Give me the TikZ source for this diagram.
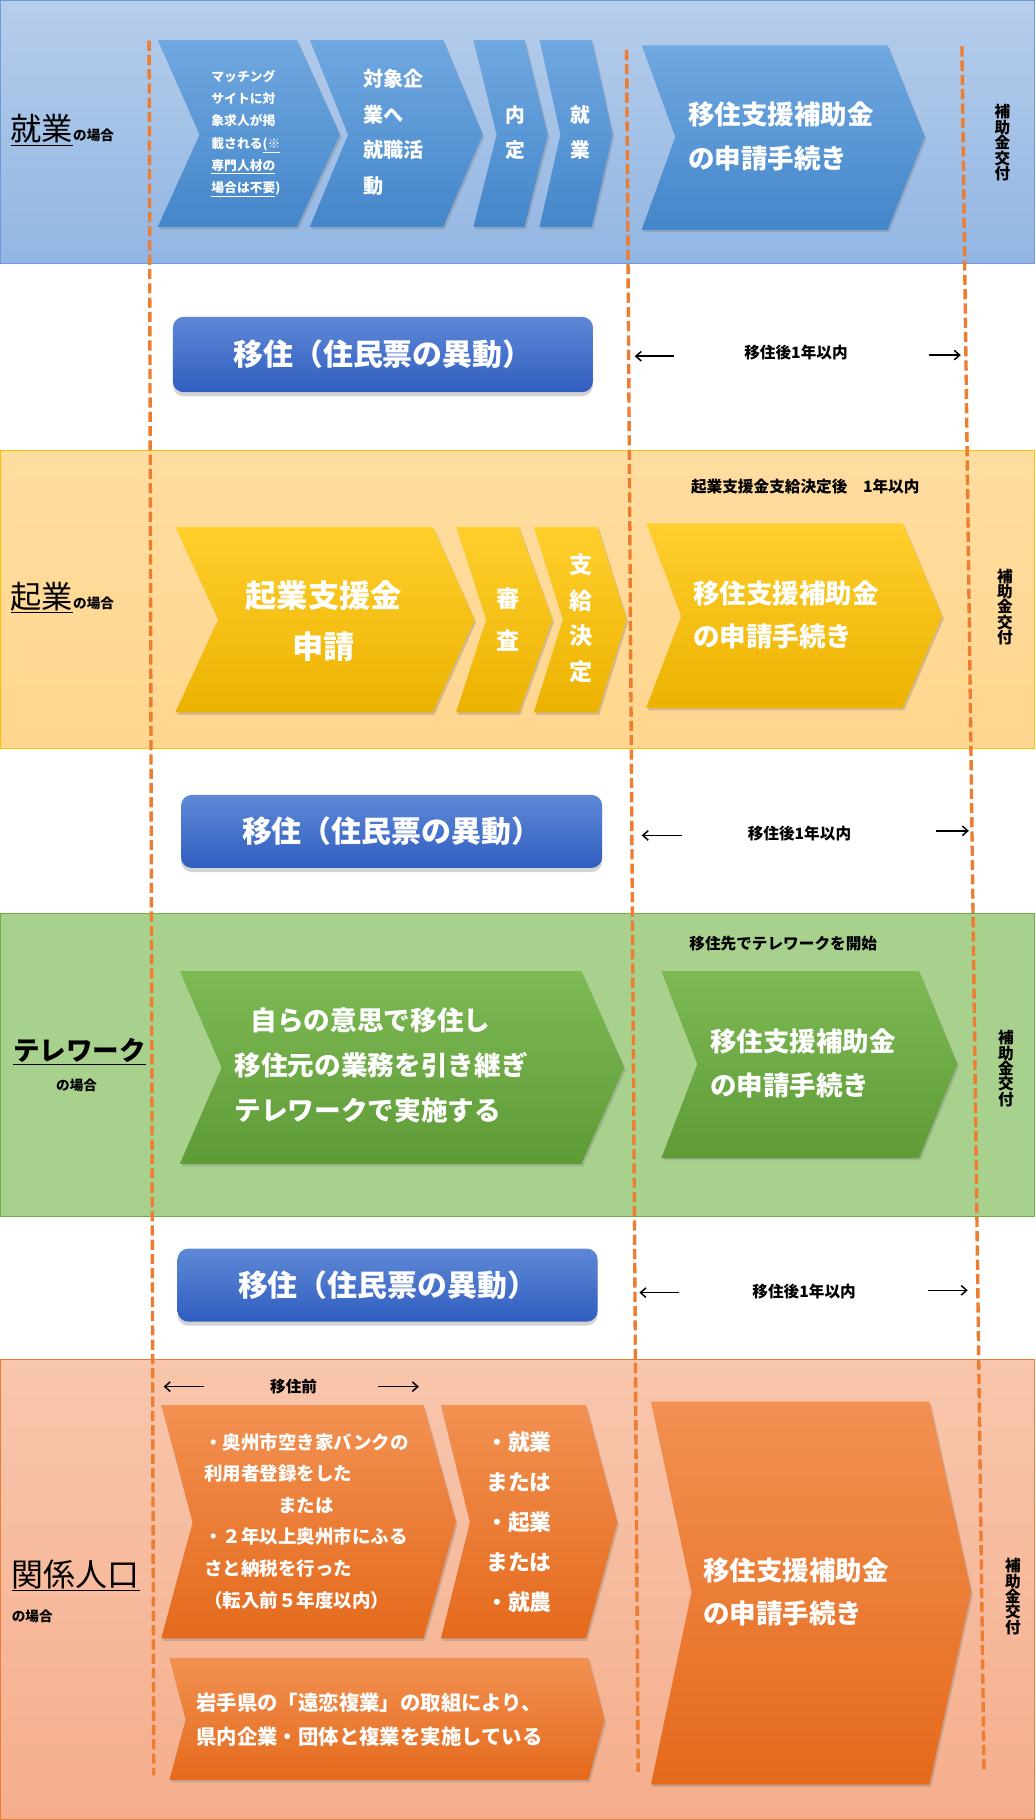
\documentclass[tikz,border=0pt]{standalone}
\usepackage{fontspec}
\setmainfont{Noto Sans CJK JP}
\usetikzlibrary{shadows,arrows.meta}

\definecolor{bandblueT}{RGB}{182,205,235}
\definecolor{bandblueB}{RGB}{146,182,227}
\definecolor{bandblueD}{RGB}{110,155,215}
\definecolor{bandyelT}{RGB}{255,221,160}
\definecolor{bandyelB}{RGB}{255,214,142}
\definecolor{bandyelD}{RGB}{255,192,0}
\definecolor{bandgrn}{RGB}{169,209,142}
\definecolor{bandgrnD}{RGB}{112,173,71}
\definecolor{bandsalT}{RGB}{248,198,172}
\definecolor{bandsalB}{RGB}{245,174,140}
\definecolor{bandsalD}{RGB}{237,125,49}
\definecolor{chevblueT}{RGB}{112,168,224}
\definecolor{chevblueB}{RGB}{68,134,202}
\definecolor{chevyelT}{RGB}{255,207,45}
\definecolor{chevyelB}{RGB}{236,178,0}
\definecolor{chevgrnT}{RGB}{126,186,84}
\definecolor{chevgrnB}{RGB}{94,154,54}
\definecolor{chevorgT}{RGB}{242,145,82}
\definecolor{chevorgB}{RGB}{228,106,28}
\definecolor{moveT}{RGB}{94,136,214}
\definecolor{moveB}{RGB}{48,94,192}
\definecolor{guideorange}{RGB}{237,125,49}

\begin{document}
\begin{tikzpicture}[x=0.03cm,y=-0.03cm,
	chev/.style={drop shadow={opacity=0.35,shadow xshift=1.2pt,shadow yshift=-1.8pt}},
	bluechev/.style={chev,top color=chevblueT,bottom color=chevblueB},
	yelchev/.style={chev,top color=chevyelT,bottom color=chevyelB},
	grnchev/.style={chev,top color=chevgrnT,bottom color=chevgrnB},
	orgchev/.style={chev,top color=chevorgT,bottom color=chevorgB},
	wtext/.style={text=white,inner sep=0pt},
	lbl/.style={inner sep=0pt,font=\fontsize{11.5pt}{13pt}\selectfont\bfseries},
	vlbl/.style={lbl,align=center,font=\fontsize{11.5pt}{11.3pt}\selectfont\bfseries},
	movebox/.style={rounded corners=8pt,top color=moveT,bottom color=moveB,text=white,
		drop shadow={opacity=0.35,shadow xshift=0pt,shadow yshift=-3pt},
		font=\fontsize{22pt}{22pt}\selectfont\bfseries},
	guide/.style={draw=guideorange,line width=2.5pt,dash pattern=on 7.5pt off 3pt},
	yr/.style={-{Straight Barb[length=4pt,width=7pt]},line width=1.1pt}]
	\useasboundingbox (0,0) rectangle (892,1568.5);

	% bands
	\path[draw=bandblueD,line width=0.8pt,top color=bandblueT,bottom color=bandblueB] (0.5,0.5) rectangle (891.5,227);
	\path[draw=bandyelD,line width=0.8pt,top color=bandyelT,bottom color=bandyelB] (0.5,388) rectangle (891.5,645);
	\path[draw=bandgrnD,line width=0.8pt,fill=bandgrn] (0.5,787) rectangle (891.5,1048);
	\path[draw=bandsalD,line width=0.8pt,top color=bandsalT,bottom color=bandsalB] (0.5,1172) rectangle (891.5,1568);

	% just after employment
	\path[bluechev] (136,34.5) -- (256,34.5) -- (293,116) -- (256,195.5) -- (136,195.5) -- (172,116) -- cycle;
	\path[bluechev] (267,34.5) -- (382,34.5) -- (416,116) -- (382,195.5) -- (267,195.5) -- (300,116) -- cycle;
	\path[bluechev] (408,34.5) -- (452,34.5) -- (472,116) -- (452,195.5) -- (408,195.5) -- (428,116) -- cycle;
	\path[bluechev] (465,34.5) -- (510,34.5) -- (528,116) -- (510,195.5) -- (465,195.5) -- (483,116) -- cycle;
	\path[bluechev] (553,39) -- (765,39) -- (797,118) -- (765,198) -- (553,198) -- (582,118) -- cycle;
	\draw (9,121) node [anchor=base west,inner sep=0pt] (k1) {\fontsize{23pt}{23pt}\selectfont\underline{就業}\fontsize{10pt}{10pt}\selectfont\bfseries の場合};
	\draw (182,115) node [wtext,anchor=west,align=left,font=\fontsize{9.4pt}{16.4pt}\selectfont\bfseries] (s1) {マッチング\\サイトに対\\象求人が掲\\載される\underline{(※}\\\underline{専門人材の}\\\underline{場合は不要})};
	\draw (313,114) node [wtext,anchor=west,align=left,font=\fontsize{14.8pt}{26.2pt}\selectfont\bfseries] (s2) {対象企\\業へ\\就職活\\動};
	\draw (444,114) node [wtext,align=center,font=\fontsize{14.5pt}{25.6pt}\selectfont\bfseries] (s3) {内\\定};
	\draw (500,114) node [wtext,align=center,font=\fontsize{14.5pt}{25.6pt}\selectfont\bfseries] (s4) {就\\業};
	\draw (593,117.5) node [wtext,anchor=west,align=left,font=\fontsize{19.5pt}{32pt}\selectfont\bfseries] (s5) {移住支援補助金\\の申請手続き};
	\draw (864,123) node [vlbl] (f1) {補\\助\\金\\交\\付};

	\draw (330,305.5) node [movebox,minimum width=10.86cm,minimum height=1.95cm] (m1) {移住（住民票の異動）};
	\draw (686,304) node [lbl] (y1) {移住後1年以内};
	\coordinate (y1a) at (581,307);
	\coordinate (y1b) at (547,307);
	\coordinate (y1c) at (801,306);
	\coordinate (y1d) at (828,306);

	% starting a business
	\path[yelchev] (151,454) -- (373,454) -- (409,534) -- (373,614) -- (151,614) -- (188,534) -- cycle;
	\path[yelchev] (393,454) -- (447,454) -- (476,534) -- (447,614) -- (393,614) -- (419,534) -- cycle;
	\path[yelchev] (460,454) -- (515,454) -- (540,534) -- (515,614) -- (460,614) -- (485,534) -- cycle;
	\path[yelchev] (557,451) -- (778,451) -- (812,531) -- (778,610) -- (557,610) -- (587,531) -- cycle;
	\draw (9,524) node [anchor=base west,inner sep=0pt] (k2) {\fontsize{23pt}{23pt}\selectfont\underline{起業}\fontsize{10pt}{10pt}\selectfont\bfseries の場合};
	\draw (694,419) node [lbl] (w2) {起業支援金支給決定後　1年以内};
	\draw (279,535) node [wtext,align=center,font=\fontsize{23pt}{37.5pt}\selectfont\bfseries] (s6) {起業支援金\\申請};
	\draw (438,534) node [wtext,align=center,font=\fontsize{17pt}{30.7pt}\selectfont\bfseries] (s7) {審\\査};
	\draw (501,533) node [wtext,align=center,font=\fontsize{17pt}{26.2pt}\selectfont\bfseries] (s8) {支\\給\\決\\定};
	\draw (597,530) node [wtext,anchor=west,align=left,font=\fontsize{19.5pt}{32pt}\selectfont\bfseries] (s9) {移住支援補助金\\の申請手続き};
	\draw (866,523) node [vlbl] (f2) {補\\助\\金\\交\\付};

	\draw (337.5,716.5) node [movebox,minimum width=10.89cm,minimum height=1.89cm] (m2) {移住（住民票の異動）};
	\draw (689,718) node [lbl] (y2) {移住後1年以内};
	\coordinate (y2a) at (588,720);
	\coordinate (y2b) at (553,720);
	\coordinate (y2c) at (807,716);
	\coordinate (y2d) at (835,716);

	% telework
	\path[grnchev] (155,837) -- (501,837) -- (538,920) -- (501,1003) -- (155,1003) -- (191,920) -- cycle;
	\path[grnchev] (570,837) -- (792,837) -- (825,917) -- (792,998) -- (570,998) -- (601,917) -- cycle;
	\draw (11,914) node [anchor=base west,inner sep=0pt,font=\fontsize{19.5pt}{19.5pt}\selectfont\bfseries] (k3) {\underline{テレワーク}};
	\draw (66,935) node [inner sep=0pt,font=\fontsize{10pt}{10pt}\selectfont\bfseries] (k3b) {の場合};
	\draw (675,813) node [lbl] (w3) {移住先でテレワークを開始};
	\draw (202,918) node [wtext,anchor=west,align=left,font=\fontsize{19.6pt}{32.9pt}\selectfont\bfseries] (s10) {\hspace*{0.6em}自らの意思で移住し\\移住元の業務を引き継ぎ\\テレワークで実施する};
	\draw (612,916.5) node [wtext,anchor=west,align=left,font=\fontsize{19.5pt}{32pt}\selectfont\bfseries] (s11) {移住支援補助金\\の申請手続き};
	\draw (867,921) node [vlbl] (f3) {補\\助\\金\\交\\付};

	\draw (334,1107.5) node [movebox,minimum width=10.86cm,minimum height=1.89cm] (m3) {移住（住民票の異動）};
	\draw (693,1113) node [lbl] (y3) {移住後1年以内};
	\coordinate (y3a) at (585,1114);
	\coordinate (y3b) at (551,1114);
	\coordinate (y3c) at (800,1112);
	\coordinate (y3d) at (834,1112);

	% related population
	\path[orgchev] (139,1211) -- (365,1211) -- (393,1312) -- (365,1412) -- (139,1412) -- (166,1312) -- cycle;
	\path[orgchev] (380,1211) -- (505,1211) -- (532,1312) -- (505,1412) -- (380,1412) -- (405,1312) -- cycle;
	\path[orgchev] (146,1429) -- (507,1429) -- (521,1482) -- (507,1534) -- (146,1534) -- (160,1482) -- cycle;
	\path[orgchev] (561,1208) -- (801,1208) -- (837,1372) -- (801,1538) -- (561,1538) -- (596,1372) -- cycle;
	\draw (10,1367) node [anchor=base west,inner sep=0pt,font=\fontsize{23.5pt}{23.5pt}\selectfont] (k4) {\underline{関係人口}};
	\draw (10,1393) node [anchor=west,inner sep=0pt,font=\fontsize{10pt}{10pt}\selectfont\bfseries] (k4b) {の場合};
	\draw (253,1195) node [lbl] (w4) {移住前};
	\coordinate (p1a) at (176,1195);
	\coordinate (p1b) at (141,1195);
	\coordinate (p1c) at (326,1195);
	\coordinate (p1d) at (361,1195);
	\draw (176,1311) node [wtext,anchor=west,align=left,font=\fontsize{13.6pt}{23.2pt}\selectfont\bfseries] (s12) {・奥州市空き家バンクの\\利用者登録をした\\\hspace*{4em}または\\・２年以上奥州市にふる\\さと納税を行った\\（転入前５年度以内）};
	\draw (419,1312) node [wtext,anchor=west,align=left,font=\fontsize{16pt}{29.5pt}\selectfont\bfseries] (s13) {・就業\\または\\・起業\\または\\・就農};
	\draw (169,1482) node [wtext,anchor=west,align=left,font=\fontsize{15pt}{25.6pt}\selectfont\bfseries] (s14) {岩手県の「遠恋複業」の取組により、\\県内企業・団体と複業を実施している};
	\draw (606,1372) node [wtext,anchor=west,align=left,font=\fontsize{19.5pt}{32pt}\selectfont\bfseries] (s15) {移住支援補助金\\の申請手続き};
	\draw (873,1376) node [vlbl] (f4) {補\\助\\金\\交\\付};

	% time markers
	\coordinate (g1) at (128.5,35);
	\coordinate (g2) at (132.5,1530);
	\coordinate (g3) at (540,43);
	\coordinate (g4) at (550,1527);
	\coordinate (g5) at (829,40);
	\coordinate (g6) at (848,1525);
	\draw[guide] (g1) -- (g2);
	\draw[guide] (g3) -- (g4);
	\draw[guide] (g5) -- (g6);
	\path[yr]
		(y1a) edge (y1b)
		(y1c) edge (y1d)
		(y2a) edge (y2b)
		(y2c) edge (y2d)
		(y3a) edge (y3b)
		(y3c) edge (y3d)
		(p1a) edge (p1b)
		(p1c) edge (p1d);
\end{tikzpicture}
\end{document}
